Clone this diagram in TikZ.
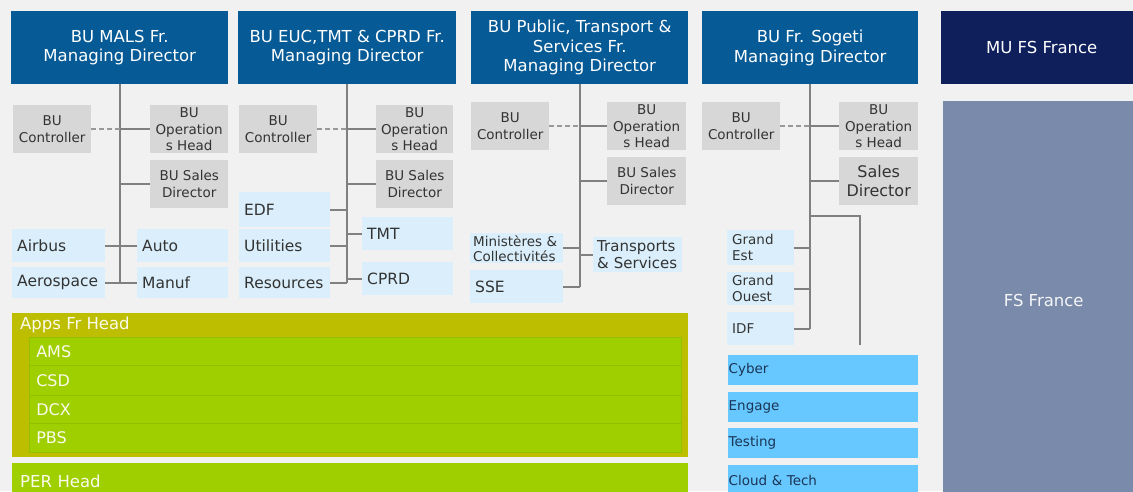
\documentclass[tikz,border=0pt]{standalone}
\usepackage{fontspec}
\setmainfont{DejaVu Sans}
\usepackage{xcolor}
\usepackage{tikz}
\usetikzlibrary{positioning,calc}

\definecolor{pagebg}{HTML}{F1F1F1}
\definecolor{headblue}{HTML}{065A96}
\definecolor{headnavy}{HTML}{0E1F5C}
\definecolor{slate}{HTML}{7A8AAA}
\definecolor{boxgrey}{HTML}{D7D7D7}
\definecolor{lblue}{HTML}{DAEFFB}
\definecolor{skyblue}{HTML}{66C8FF}
\definecolor{appsolive}{HTML}{BEBE00}
\definecolor{appsgreen}{HTML}{A0CF00}
\definecolor{rowline}{HTML}{93BF00}
\definecolor{linegrey}{HTML}{808080}
\definecolor{txtdark}{HTML}{333333}
\definecolor{txtnavy}{HTML}{1B3556}
\definecolor{txtlight}{HTML}{FAFAEC}

\begin{document}
\begin{tikzpicture}[
    x=1pt, y=-1pt,
    head/.style={rectangle, fill=headblue, text=white, font=\fontsize{16.5}{19.5}\selectfont, align=center, anchor=north west, minimum height=73pt, inner sep=0pt},
    gbox/.style={rectangle, fill=boxgrey, text=txtdark, font=\fontsize{13.5}{16.5}\selectfont, align=center, anchor=north west, minimum width=78pt, minimum height=48pt, inner sep=0pt},
    lbox/.style={rectangle, fill=lblue, text=txtdark, font=\fontsize{15.5}{18}\selectfont, align=left, anchor=north west, inner xsep=5pt, inner ysep=0pt},
    cbox/.style={rectangle, fill=skyblue, text=txtnavy, font=\fontsize{13.5}{16}\selectfont, align=left, anchor=north west, text width=189pt, inner xsep=0.5pt, inner ysep=0pt, minimum height=30pt},
    row/.style={rectangle, fill=appsgreen, draw=rowline, line width=0.6pt, text=txtlight, font=\fontsize{16}{18}\selectfont, align=left, anchor=north west, text width=638pt, inner xsep=7pt, inner ysep=0pt},
    conn/.style={draw=linegrey, line width=1.8pt},
    dashline/.style={draw=linegrey!80, line width=1.8pt, dash pattern=on 5pt off 3pt}
]
    \clip (0,0) rectangle (1133,491);
    \fill[pagebg] (0,0) rectangle (1133,491);

    % Headers
    \node[head, minimum width=217pt] (mals) at (11,11) {BU MALS Fr.\\Managing Director};
    \node[head, minimum width=218pt] (euc) at (238,11) {BU EUC,TMT \& CPRD Fr.\\Managing Director};
    \node[head, minimum width=217pt] (pts) at (471,11) {BU Public, Transport \&\\Services Fr.\\Managing Director};
    \node[head, minimum width=216pt] (sog) at (702,11) {BU Fr. Sogeti\\Managing Director};
    \node[head, fill=headnavy, minimum width=201pt] (mu) at (941,11) {MU FS France};
    \node[rectangle, fill=slate, text=white!92!slate, font=\fontsize{16.5}{19.5}\selectfont, anchor=north west, minimum width=201pt, minimum height=398pt] (fsfr) at (943,101) {FS France};

    % BU MALS
    \node[gbox] (mals-ctrl) at (13,105) {BU\\Controller};
    \node[gbox] (mals-ops) at (150,105) {BU\\Operation\\s Head};
    \node[gbox] (mals-sales) at (150,160) {BU Sales\\Director};
    \node[lbox, text width=83pt, minimum height=33pt] (airbus) at (12,229) {Airbus};
    \node[lbox, text width=81pt, minimum height=33pt] (auto) at (137,229) {Auto};
    \node[lbox, text width=83pt, minimum height=31pt] (aero) at (12,267) {Aerospace};
    \node[lbox, text width=81pt, minimum height=31pt] (manuf) at (137,267) {Manuf};

    % BU EUC, TMT & CPRD
    \node[gbox] (euc-ctrl) at (239,105) {BU\\Controller};
    \node[gbox, minimum width=77pt] (euc-ops) at (376,105) {BU\\Operation\\s Head};
    \node[gbox, minimum width=77pt] (euc-sales) at (376,160) {BU Sales\\Director};
    \node[lbox, text width=81pt, minimum height=35pt] (edf) at (239,192) {EDF};
    \node[lbox, text width=81pt, minimum height=33pt] (util) at (239,229) {Utilities};
    \node[lbox, text width=81pt, minimum height=31pt] (res) at (239,267) {Resources};
    \node[lbox, text width=81pt, minimum height=33pt] (tmt) at (362,217) {TMT};
    \node[lbox, text width=81pt, minimum height=33pt] (cprd) at (362,262) {CPRD};

    % BU Public, Transport & Services
    \node[gbox] (pts-ctrl) at (471,102) {BU\\Controller};
    \node[gbox, minimum width=79pt] (pts-ops) at (607,102) {BU\\Operation\\s Head};
    \node[gbox, minimum width=79pt] (pts-sales) at (607,157) {BU Sales\\Director};
    \node[lbox, font=\fontsize{13.5}{15}\selectfont, inner xsep=3pt, text width=87pt, minimum height=30pt] (minis) at (470,233) {Ministères \&\\Collectivités};
    \node[lbox, text width=83pt, minimum height=33pt] (sse) at (470,270) {SSE};
    \node[lbox, font=\fontsize{15}{17.5}\selectfont, inner xsep=4pt, text width=81pt, minimum height=35pt] (transp) at (593,237) {Transports\\\& Services};

    % BU Sogeti
    \node[gbox] (sog-ctrl) at (702,102) {BU\\Controller};
    \node[gbox, minimum width=79pt] (sog-ops) at (839,102) {BU\\Operation\\s Head};
    \node[gbox, minimum width=79pt, font=\fontsize{16}{19}\selectfont] (sog-sales) at (839,157) {Sales\\Director};
    \node[lbox, font=\fontsize{13.5}{16}\selectfont, text width=57pt, minimum height=35pt] (gest) at (727,230) {Grand\\Est};
    \node[lbox, font=\fontsize{13.5}{16}\selectfont, text width=57pt, minimum height=33pt] (gouest) at (727,272) {Grand\\Ouest};
    \node[lbox, font=\fontsize{13.5}{16}\selectfont, text width=57pt, minimum height=33pt] (idf) at (727,312) {IDF};
    \node[cbox] (cyber) at (728,355) {Cyber};
    \node[cbox] (engage) at (728,392) {Engage};
    \node[cbox] (testing) at (728,428) {Testing};
    \node[cbox] (cloud) at (728,465) {Cloud \& Tech};

    % Apps and PER
    \node[rectangle, fill=appsolive, anchor=north west, minimum width=676pt, minimum height=144pt, inner sep=0pt] (apps) at (12,313) {};
    \node[anchor=west, text=txtlight, font=\fontsize{16.5}{19}\selectfont, inner sep=0pt] (apps-title) at (20,325) {Apps Fr Head};
    \node[row, minimum height=28pt] (ams) at (29,337) {AMS};
    \node[row, minimum height=30pt] (csd) at (29,365) {CSD};
    \node[row, minimum height=28pt] (dcx) at (29,395) {DCX};
    \node[row, minimum height=29pt] (pbs) at (29,423) {PBS};
    \node[rectangle, fill=appsgreen, text=txtlight, font=\fontsize{16.5}{19}\selectfont, align=left, anchor=north west, text width=660pt, inner xsep=8pt, inner ysep=0pt, minimum height=36pt] (per) at (12,463) {PER Head};

    % Connectors
    \coordinate (mals-end) at (mals.south |- aero.east);
    \coordinate (euc-end) at (euc.south |- res.east);
    \coordinate (pts-end) at (pts.south |- sse.east);
    \coordinate (sog-end) at (sog.south |- idf.east);
    \coordinate (sog-fork) at (810,216);
    \coordinate (sog-tail) at (860,345);

    \draw[conn] (mals.south) -- (mals-end);
    \draw[dashline] (mals-ctrl.east) -- (mals-ctrl.east -| mals.south);
    \draw[conn] (mals-ctrl.east -| mals.south) -- (mals-ops.west);
    \draw[conn] (mals-sales.west -| mals.south) -- (mals-sales.west);
    \draw[conn] (airbus) -- (auto);
    \draw[conn] (aero) -- (manuf);

    \draw[conn] (euc.south) -- (euc-end);
    \draw[dashline] (euc-ctrl.east) -- (euc-ctrl.east -| euc.south);
    \draw[conn] (euc-ctrl.east -| euc.south) -- (euc-ops.west);
    \draw[conn] (euc-sales.west -| euc.south) -- (euc-sales.west);
    \draw[conn] (edf.east) -- (edf.east -| euc.south);
    \draw[conn] (util.east) -- (util.east -| euc.south);
    \draw[conn] (res.east) -- (euc-end);
    \draw[conn] (tmt.west -| euc.south) -- (tmt.west);
    \draw[conn] (cprd.west -| euc.south) -- (cprd.west);

    \draw[conn] (pts.south) -- (pts-end);
    \draw[dashline] (pts-ctrl.east) -- (pts-ctrl.east -| pts.south);
    \draw[conn] (pts-ctrl.east -| pts.south) -- (pts-ops.west);
    \draw[conn] (pts-sales.west -| pts.south) -- (pts-sales.west);
    \draw[conn] (minis.east) -- (minis.east -| pts.south);
    \draw[conn] (sse.east) -- (pts-end);
    \draw[conn] (transp.west -| pts.south) -- (transp.west);

    \draw[conn] (sog.south) -- (sog-end);
    \draw[dashline] (sog-ctrl.east) -- (sog-ctrl.east -| sog.south);
    \draw[conn] (sog-ctrl.east -| sog.south) -- (sog-ops.west);
    \draw[conn] (sog-sales.west -| sog.south) -- (sog-sales.west);
    \draw[conn] (sog-fork) -| (sog-tail);
    \draw[conn] (gest.east) -- (gest.east -| sog.south);
    \draw[conn] (gouest.east) -- (gouest.east -| sog.south);
    \draw[conn] (idf.east) -- (sog-end);
\end{tikzpicture}
\end{document}
